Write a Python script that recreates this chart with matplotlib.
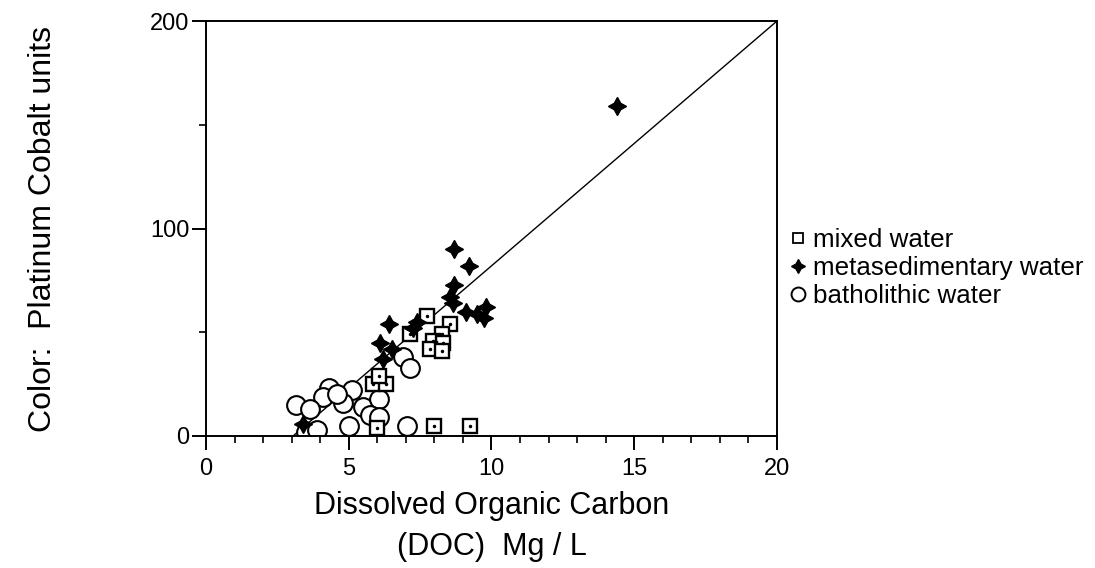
import matplotlib.pyplot as plt
import numpy as np
from matplotlib.ticker import MultipleLocator

plt.rcParams['font.family'] = ['Liberation Sans', 'DejaVu Sans']

# mixed water (squares)
mixedX = [7.75, 7.15, 8.55, 8.25, 7.95, 8.3, 7.85, 8.25, 5.85, 6.3, 6.05, 8.0, 9.25, 6.0]
mixedY = [58, 49, 54, 49, 46, 45, 42, 41, 25, 25, 29, 5, 5, 4]

# metasedimentary water (filled stars)
metaX = [14.4, 8.7, 9.2, 8.7, 8.55, 8.65, 9.1, 9.5, 9.75, 9.8, 6.4, 7.4, 7.25, 6.1, 6.5, 6.2, 3.4]
metaY = [159, 90, 82, 73, 67, 64, 60, 59, 57, 62, 54, 55, 52, 45, 42, 37, 6]

# batholithic water (open circles)
bathX = [6.9, 7.15, 4.3, 5.1, 3.15, 4.1, 4.8, 5.5, 6.05, 5.75, 6.05, 5.0, 7.05, 3.5, 3.9, 3.65, 4.6]
bathY = [38, 33, 23, 22, 15, 19, 16, 14, 18, 10, 9, 5, 5, 2, 3, 13, 20]

# regression line
lineX = [3.05, 20]
lineY = [0, 200]

fig = plt.figure(figsize=(10.95, 5.68), dpi=100)
ax = fig.add_axes([0.1881, 0.2324, 0.5215, 0.7306])

ax.plot(lineX, lineY, color='black', lw=1.0, zorder=1)

ax.plot(bathX, bathY, 'o', ms=13.5, mfc='white', mec='black', mew=1.5, zorder=2, label="batholithic water")
ax.plot(mixedX, mixedY, 's', ms=10.5, mfc='white', mec='black', mew=1.7, zorder=3, label="mixed water")
ax.plot(mixedX, mixedY, '.', ms=3, color='black', zorder=4)
ax.plot(metaX, metaY, marker=(4, 1, 0), ls='none', ms=13, color='black', zorder=5, label="metasedimentary water")

ax.set_xlim(0, 20)
ax.set_ylim(0, 200)
ax.xaxis.set_major_locator(MultipleLocator(5))
ax.xaxis.set_minor_locator(MultipleLocator(1))
ax.yaxis.set_major_locator(MultipleLocator(100))
ax.yaxis.set_minor_locator(MultipleLocator(50))
ax.tick_params(which='major', direction='out', length=10, width=1.4, labelsize=17)
ax.tick_params(axis='x', which='major', pad=6)
ax.tick_params(axis='y', which='major', pad=2)
ax.tick_params(which='minor', direction='out', length=5, width=1.2)
for s in ax.spines.values():
	s.set_linewidth(1.4)

ax.set_xlabel("Dissolved Organic Carbon\n(DOC)  Mg / L", fontsize=22, linespacing=1.45, labelpad=8)
ax.set_ylabel("Color:  Platinum Cobalt units", fontsize=23, labelpad=66)

h, l = ax.get_legend_handles_labels()
order = [1, 2, 0]
mixedHandle = plt.Line2D([], [], marker='s', ls='none', ms=7, mfc='white', mec='black', mew=1.3)
metaHandle = plt.Line2D([], [], marker=(4, 1, 0), ls='none', ms=10, color='black')
bathHandle = plt.Line2D([], [], marker='o', ls='none', ms=10, mfc='white', mec='black', mew=1.4)
fig.legend([mixedHandle, metaHandle, bathHandle], [l[i] for i in order],
	loc='upper left', bbox_to_anchor=(0.697, 0.64), frameon=False,
	fontsize=18.7, handletextpad=0.1, labelspacing=0.15, handlelength=0.9)

plt.savefig("out.png", dpi=100)
